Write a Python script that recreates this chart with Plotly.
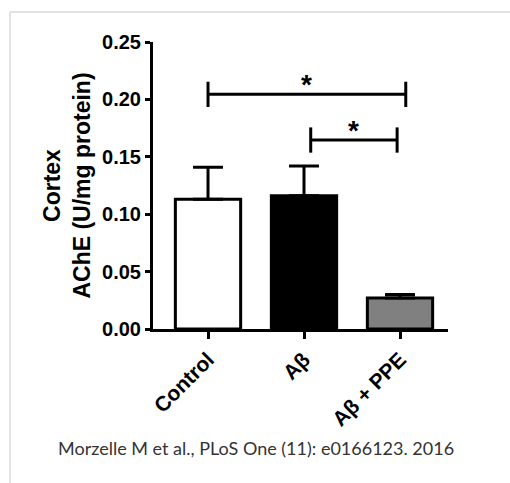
import plotly.graph_objects as go

# ---- data ----
categories = ["Control", "Aβ", "Aβ + PPE"]
means = [0.113, 0.116, 0.027]
sem = [0.028, 0.026, 0.003]
bar_colors = ["#ffffff", "#000000", "#808080"]

# significance brackets: (start category index, end category index, height)
bracket_start = [0.0, 1.07]
bracket_end = [2.06, 1.97]
bracket_level = [0.2044, 0.1646]
bracket_label = ["*", "*"]

y_ticks = [0.00, 0.05, 0.10, 0.15, 0.20, 0.25]
caption = "Morzelle M et al., PLoS One (11): e0166123. 2016"

FONT = "Liberation Sans, Arial, sans-serif"
W, H = 510, 483
L, R, T, B = 153, 62, 42, 154

x_idx = list(range(len(categories)))

fig = go.Figure()
fig.add_trace(go.Bar(
    x=x_idx, y=means, width=0.68,
    marker=dict(color=bar_colors, line=dict(color="black", width=3)),
    error_y=dict(type="data", array=sem, arrayminus=[0] * len(sem), symmetric=False,
                 color="black", thickness=3, width=15),
    showlegend=False, hoverinfo="skip",
))

tick_half = 0.011
for x0, x1, yv, lab in zip(bracket_start, bracket_end, bracket_level, bracket_label):
    fig.add_trace(go.Scatter(
        x=[x0, x0, None, x0, x1, None, x1, x1],
        y=[yv - tick_half, yv + tick_half, None, yv, yv, None, yv - tick_half, yv + tick_half],
        mode="lines", line=dict(color="black", width=3),
        showlegend=False, hoverinfo="skip",
    ))
    fig.add_annotation(x=(x0 + x1) / 2, y=yv, text="<b>%s</b>" % lab, showarrow=False,
                       yanchor="bottom", yshift=-8,
                       font=dict(family=FONT, size=28, color="black"))

fig.update_layout(
    width=W, height=H,
    margin=dict(l=L, r=R, t=T, b=B, autoexpand=False),
    paper_bgcolor="white", plot_bgcolor="white",
    font=dict(family=FONT, color="black"),
    bargap=0.32,
)
fig.update_xaxes(
    range=[-0.573, 2.5], tickvals=x_idx, ticktext=["<b>%s</b>" % c for c in categories],
    tickangle=-45, ticks="outside", ticklen=7, tickwidth=3, tickcolor="black",
    showline=True, linecolor="black", linewidth=3, showgrid=False, zeroline=False,
    tickfont=dict(family=FONT, size=21, color="black"), automargin=False,
)
fig.update_yaxes(
    range=[0, 0.25], tickvals=y_ticks, ticktext=["<b>%.2f</b>" % v for v in y_ticks],
    ticks="outside", ticklen=5, tickwidth=3, tickcolor="black",
    showline=True, linecolor="black", linewidth=3, showgrid=False, zeroline=False,
    tickfont=dict(family=FONT, size=20, color="black"), automargin=False,
    title=dict(text="<b>Cortex<br>AChE (U/mg protein)</b>", standoff=6,
               font=dict(family=FONT, size=23, color="black")),
)

# caption
pw, ph = W - L - R, H - T - B
fig.add_annotation(x=(256 - L) / pw, y=(H - B - 448) / ph,
                   xref="paper", yref="paper", text=caption, showarrow=False,
                   xanchor="center", yanchor="middle",
                   font=dict(family="Lato, sans-serif", size=18, color="#333333"))

# light frame (top and left edges)
fx0 = (10 - L) / pw
fx1 = (W - L) / pw
fy_top = (H - B - 12) / ph
fy_bot = (H - B - H) / ph
fig.add_shape(type="line", xref="paper", yref="paper", x0=fx0, x1=fx1, y0=fy_top, y1=fy_top,
              line=dict(color="#e2e2e2", width=2))
fig.add_shape(type="line", xref="paper", yref="paper", x0=fx0, x1=fx0, y0=fy_top, y1=fy_bot,
              line=dict(color="#e2e2e2", width=2))

fig.write_html("out.html", config={"displayModeBar": False},
               post_script="document.body.style.margin='0';")
